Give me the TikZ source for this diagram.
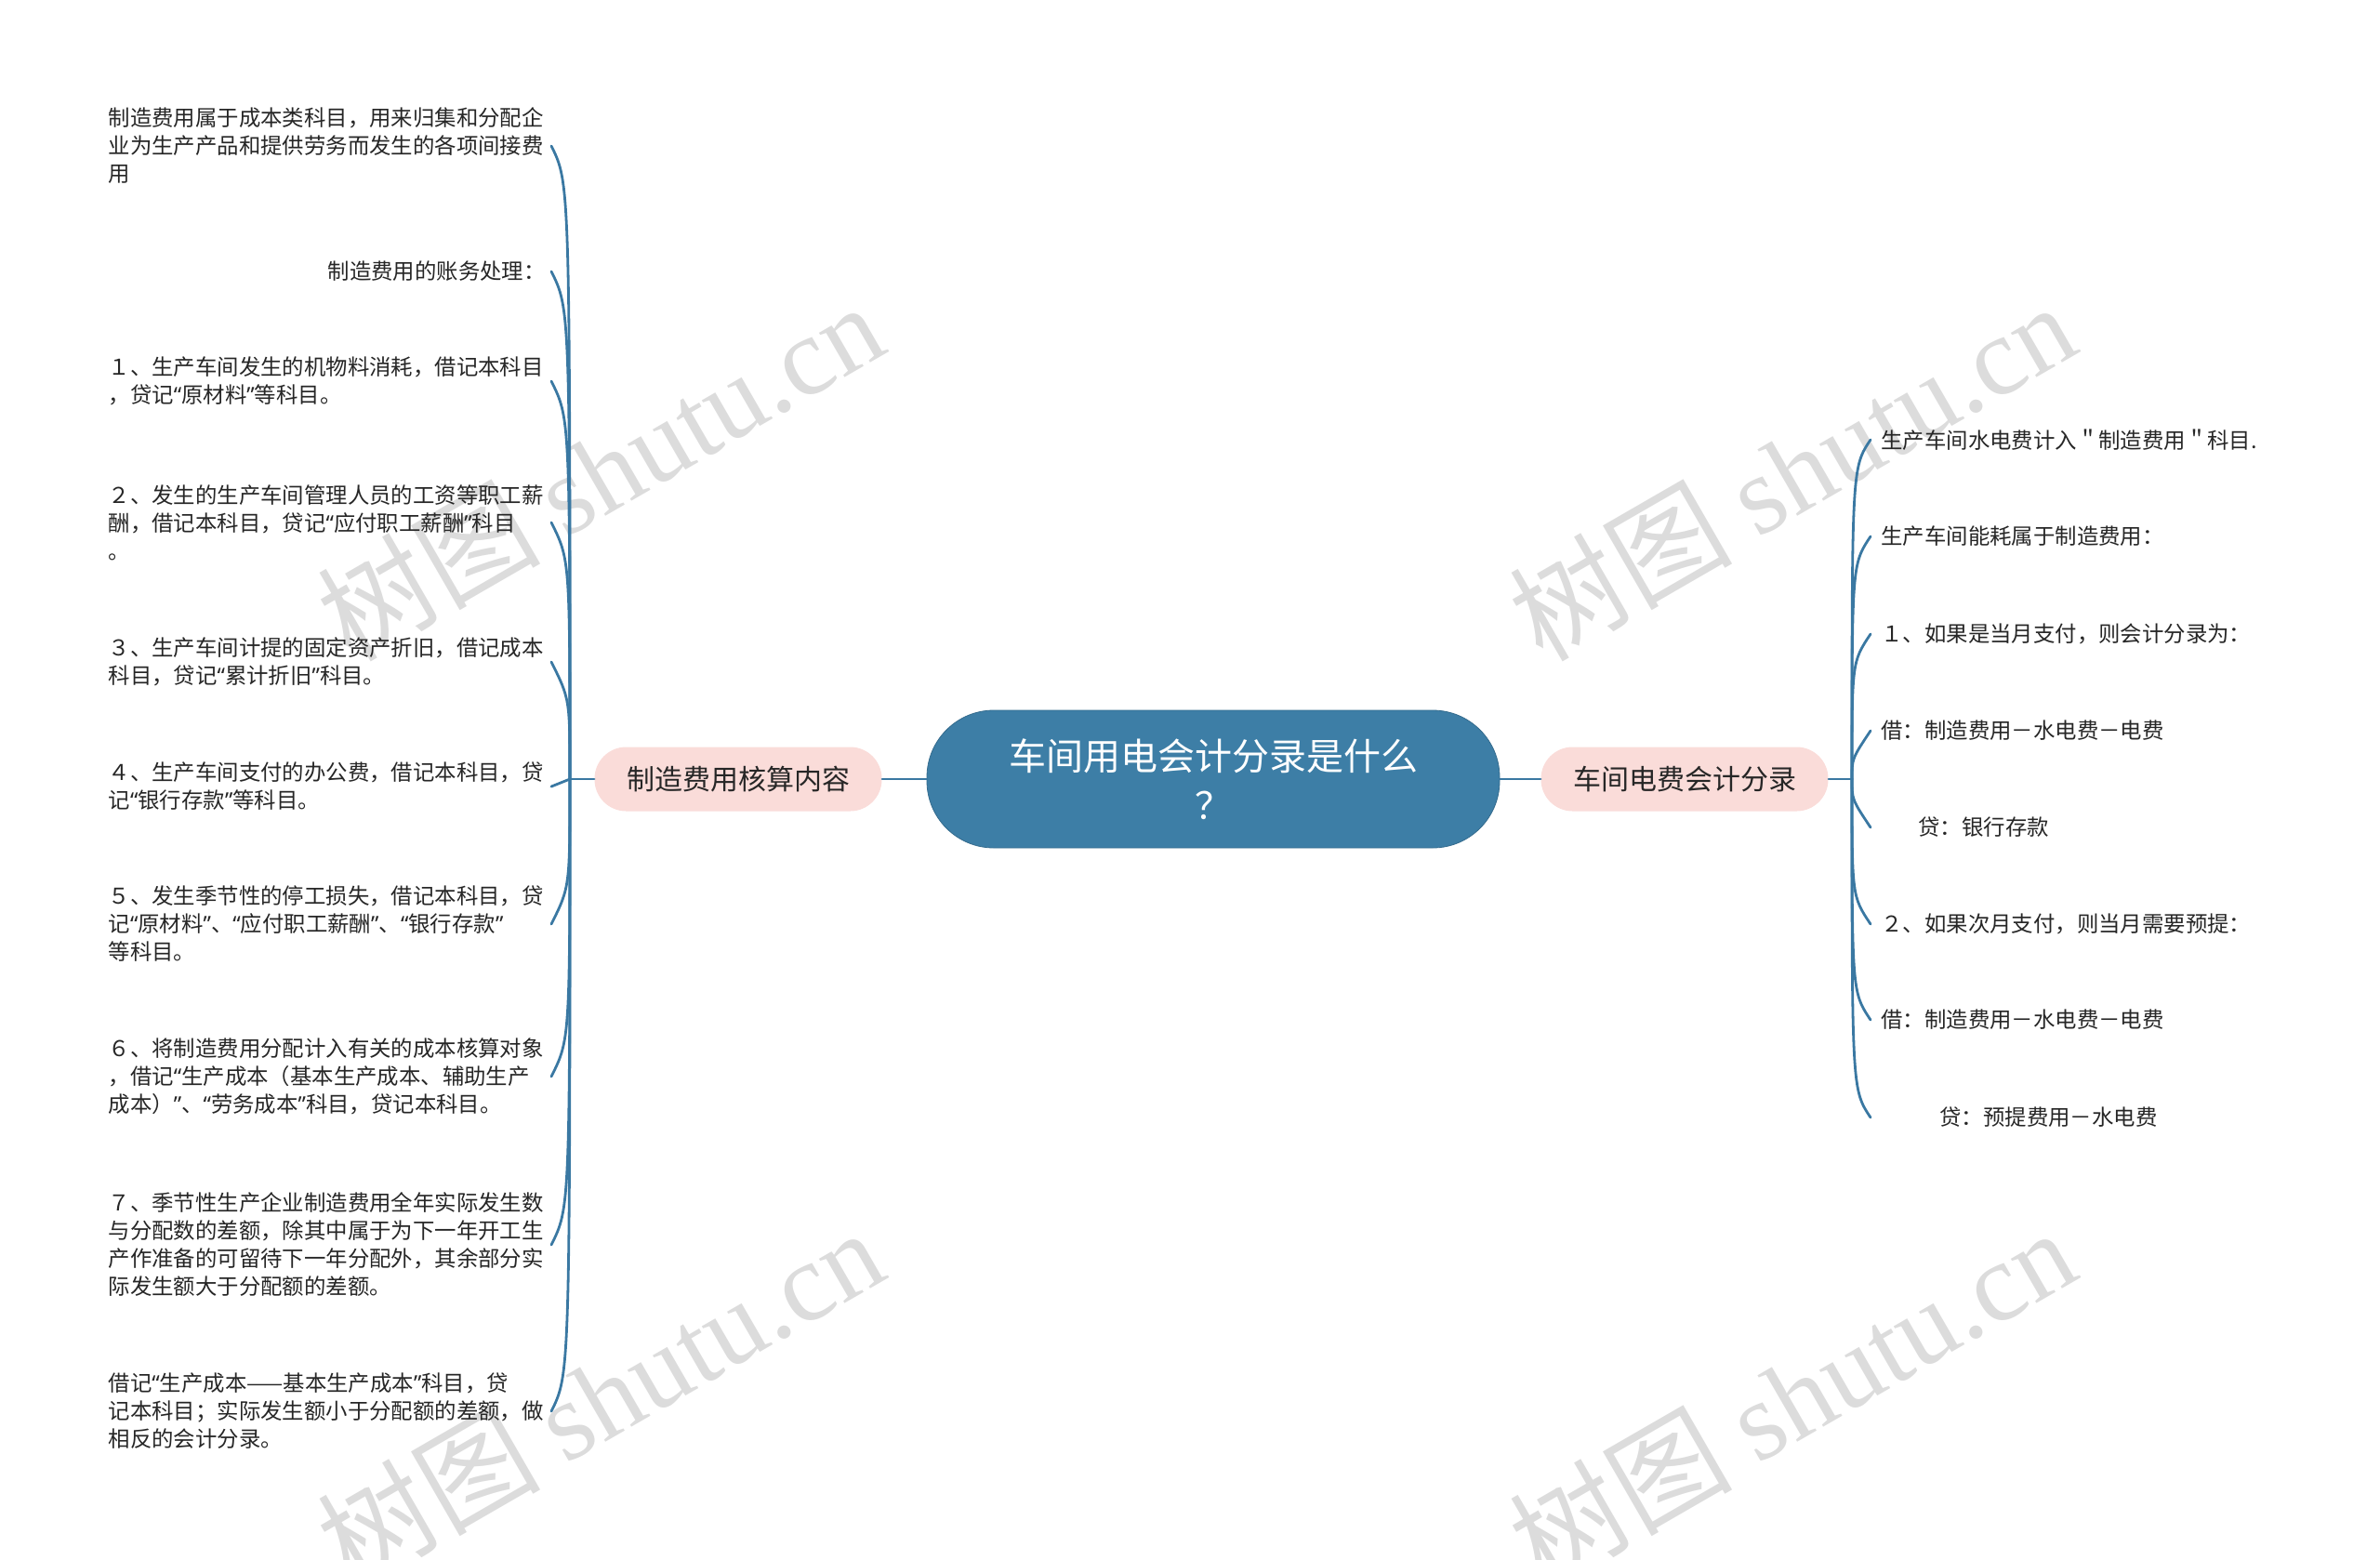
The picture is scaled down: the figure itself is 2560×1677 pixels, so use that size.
\documentclass[tikz,border=0pt]{standalone}
\usepackage{fontspec}
\setmainfont{Noto Sans CJK SC}
\newfontfamily\wmfont{Liberation Serif}
\newfontfamily\quotefont{Noto Sans}
\usepackage{tikz}

\definecolor{hubblue}{HTML}{3D7EA6}
\definecolor{linkblue}{HTML}{3A78A2}
\definecolor{topicpink}{HTML}{FADCD9}
\definecolor{wmgray}{HTML}{DCDCDC}
\newcommand\oq{{\quotefont “}}
\newcommand\cq{{\quotefont ”}}

\begin{document}
\begin{tikzpicture}[x=0.5pt, y=-0.5pt, line cap=round,
  rootbox/.style={fill=hubblue, draw=hubblue!85!black, thin, text=white, rounded corners=36pt,
    minimum width=308pt, minimum height=74pt, inner sep=0pt, align=center,
    font=\fontsize{20}{26.5}\selectfont},
  topic/.style={fill=topicpink, rounded corners=17pt, minimum width=154.5pt,
    minimum height=34.5pt, inner sep=0pt, text=black!85, font=\fontsize{15}{18}\selectfont},
  leafleft/.style={anchor=east, text width=235pt, align=left, inner xsep=3pt, inner ysep=0pt,
    text=black!85, font=\fontsize{11.7}{15}\selectfont},
  leafright/.style={anchor=west, inner xsep=5.5pt, inner ysep=0pt,
    text=black!85, font=\fontsize{11.7}{15}\selectfont},
  link/.style={draw=linkblue, line width=1.4pt},
  wmark/.style={text=wmgray, rotate=30, font=\fontsize{60}{60}\selectfont}]
\useasboundingbox (0,0) rectangle (2560,1677);

%watermarks
\node[wmark] (wm1) at (645, 506) {树图 {\wmfont shutu.cn}};
\node[wmark] (wm2) at (1927, 506) {树图 {\wmfont shutu.cn}};
\node[wmark] (wm3) at (645, 1502) {树图 {\wmfont shutu.cn}};
\node[wmark] (wm4) at (1927, 1502) {树图 {\wmfont shutu.cn}};

%centre
\node[rootbox] (root) at (1305, 838) {车间用电会计分录是什么\\？};
\node[topic] (costs) at (794, 838) {制造费用核算内容};
\node[topic] (power) at (1812, 838) {车间电费会计分录};
\coordinate (lhub) at (613, 838);
\coordinate (rhub) at (1992, 838);

\draw[link] (root.west) -- (costs.east);
\draw[link] (costs.west) -- (lhub);
\draw[link] (root.east) -- (power.west);
\draw[link] (power.east) -- (rhub);

%left side
\node[leafleft] (c1) at (593, 157) {制造费用属于成本类科目，用来归集和分配企\\业为生产产品和提供劳务而发生的各项间接费\\用};
\node[leafleft, text width=, align=right] (c2) at (593, 292) {制造费用的账务处理：};
\node[leafleft] (c3) at (593, 410) {１、生产车间发生的机物料消耗，借记本科目\\，贷记\oq 原材料\cq 等科目。};
\node[leafleft] (c4) at (593, 562) {２、发生的生产车间管理人员的工资等职工薪\\酬，借记本科目，贷记\oq 应付职工薪酬\cq 科目\\。};
\node[leafleft] (c5) at (593, 712) {３、生产车间计提的固定资产折旧，借记成本\\科目，贷记\oq 累计折旧\cq 科目。};
\node[leafleft] (c6) at (593, 846) {４、生产车间支付的办公费，借记本科目，贷\\记\oq 银行存款\cq 等科目。};
\node[leafleft] (c7) at (593, 994) {５、发生季节性的停工损失，借记本科目，贷\\记\oq 原材料\cq 、\oq 应付职工薪酬\cq 、\oq 银行存款\cq\\等科目。};
\node[leafleft] (c8) at (593, 1158) {６、将制造费用分配计入有关的成本核算对象\\，借记\oq 生产成本（基本生产成本、辅助生产\\成本）\cq 、\oq 劳务成本\cq 科目，贷记本科目。};
\node[leafleft] (c9) at (593, 1339) {７、季节性生产企业制造费用全年实际发生数\\与分配数的差额，除其中属于为下一年开工生\\产作准备的可留待下一年分配外，其余部分实\\际发生额大于分配额的差额。};
\node[leafleft] (c10) at (593, 1518) {借记\oq 生产成本——基本生产成本\cq 科目，贷\\记本科目；实际发生额小于分配额的差额，做\\相反的会计分录。};

\draw[link] (lhub) .. controls (613, 197) and (613, 197) .. (c1.east);
\draw[link] (lhub) .. controls (613, 332) and (613, 332) .. (c2.east);
\draw[link] (lhub) .. controls (613, 450) and (613, 450) .. (c3.east);
\draw[link] (lhub) .. controls (613, 602) and (613, 602) .. (c4.east);
\draw[link] (lhub) .. controls (613, 752) and (613, 752) .. (c5.east);
\draw[link] (lhub) -- (c6.east);
\draw[link] (lhub) .. controls (613, 954) and (613, 954) .. (c7.east);
\draw[link] (lhub) .. controls (613, 1118) and (613, 1118) .. (c8.east);
\draw[link] (lhub) .. controls (613, 1299) and (613, 1299) .. (c9.east);
\draw[link] (lhub) .. controls (613, 1478) and (613, 1478) .. (c10.east);

%right side
\node[leafright] (e1) at (2012, 473) {生产车间水电费计入＂制造费用＂科目.};
\node[leafright] (e2) at (2012, 577) {生产车间能耗属于制造费用：};
\node[leafright] (e3) at (2012, 682) {１、如果是当月支付，则会计分录为：};
\node[leafright] (e4) at (2012, 786) {借：制造费用－水电费－电费};
\node[leafright] (e5) at (2012, 890) {\hspace*{20pt}贷：银行存款};
\node[leafright] (e6) at (2012, 994) {２、如果次月支付，则当月需要预提：};
\node[leafright] (e7) at (2012, 1097) {借：制造费用－水电费－电费};
\node[leafright] (e8) at (2012, 1202) {\hspace*{31.5pt}贷：预提费用－水电费};

\draw[link] (rhub) .. controls (1992, 503) and (1992, 503) .. (e1.west);
\draw[link] (rhub) .. controls (1992, 607) and (1992, 607) .. (e2.west);
\draw[link] (rhub) .. controls (1992, 712) and (1992, 712) .. (e3.west);
\draw[link] (rhub) .. controls (1992, 816) and (1992, 816) .. (e4.west);
\draw[link] (rhub) .. controls (1992, 860) and (1992, 860) .. (e5.west);
\draw[link] (rhub) .. controls (1992, 964) and (1992, 964) .. (e6.west);
\draw[link] (rhub) .. controls (1992, 1067) and (1992, 1067) .. (e7.west);
\draw[link] (rhub) .. controls (1992, 1172) and (1992, 1172) .. (e8.west);
\end{tikzpicture}
\end{document}
